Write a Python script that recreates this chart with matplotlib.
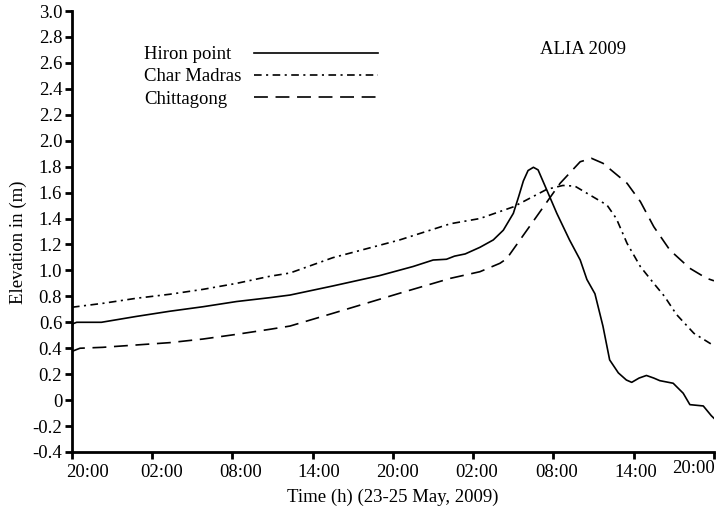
import matplotlib
matplotlib.use("Agg")
import matplotlib.pyplot as plt
import matplotlib.transforms as mtransforms
from matplotlib.lines import Line2D

plt.rcParams['font.family'] = ['Liberation Serif', 'DejaVu Serif']
plt.rcParams['lines.scale_dashes'] = False

# Time in hours since 20:00, 23 May 2009
hiron_t = [0, 0.1, 0.35, 2.2, 4.8, 7.3, 9.8, 12.3, 14.8, 16.3, 19.5, 23.0, 25.5,
           27.0, 28.0, 28.6, 29.4, 30.5, 31.5, 32.25, 33.0, 33.4, 33.75, 34.1, 34.5,
           34.85, 35.5, 36.25, 37.2, 38.0, 38.5, 39.1, 39.7, 40.2, 40.85, 41.45,
           41.85, 42.4, 42.95, 43.5, 43.95, 44.95, 45.7, 46.2, 47.2, 47.8, 48.0]
hiron_v = [0.57, 0.59, 0.60, 0.60, 0.645, 0.685, 0.72, 0.76, 0.79, 0.81, 0.88, 0.96, 1.03,
           1.08, 1.086, 1.11, 1.127, 1.178, 1.235, 1.31, 1.44, 1.57, 1.69, 1.77, 1.795,
           1.775, 1.62, 1.44, 1.235, 1.08, 0.93, 0.82, 0.57, 0.31, 0.21, 0.155,
           0.137, 0.17, 0.19, 0.17, 0.15, 0.13, 0.053, -0.035, -0.045, -0.12, -0.14]

madras_t = [0, 2.3, 4.8, 7.3, 9.8, 12.3, 14.8, 16.3, 19.5, 24.5, 28.3, 30.5, 31.75,
            33.0, 35.5, 36.7, 37.6, 38.5, 40.0, 40.7, 41.5, 42.5, 43.5, 44.3, 45.2,
            46.5, 47.7, 48.0]
madras_v = [0.716, 0.746, 0.785, 0.816, 0.854, 0.90, 0.955, 0.98, 1.098, 1.235, 1.36, 1.40, 1.445,
            1.49, 1.625, 1.655, 1.65, 1.595, 1.504, 1.40, 1.209, 1.029, 0.90, 0.80, 0.66,
            0.515, 0.438, 0.42]

chitt_t = [0, 0.1, 0.6, 2.3, 4.8, 7.3, 9.8, 12.3, 14.8, 16.3, 19.5, 24.5, 28.3, 30.5,
           32.0, 32.5, 34.2, 36.5, 38.0, 38.85, 39.7, 41.5, 42.5, 43.5, 44.7, 46.2,
           47.45, 48.0]
chitt_v = [0.37, 0.38, 0.40, 0.407, 0.425, 0.443, 0.471, 0.507, 0.546, 0.571, 0.669, 0.824, 0.939, 0.99,
           1.055, 1.09, 1.337, 1.672, 1.838, 1.864, 1.826, 1.672, 1.53, 1.337, 1.157, 1.016,
           0.939, 0.92]

series_names = ["Hiron point", "Char Madras", "Chittagong"]
xtick_labels = ["20:00", "02:00", "08:00", "14:00", "20:00", "02:00", "08:00", "14:00", "20:00"]
ytick_values = [-0.4, -0.2, 0, 0.2, 0.4, 0.6, 0.8, 1.0, 1.2, 1.4, 1.6, 1.8, 2.0,
                2.2, 2.4, 2.6, 2.8, 3.0]

FS = 13.5
fig = plt.figure(figsize=(7.19, 5.12), dpi=100)
ax = fig.add_axes([0.1001, 0.1172, 0.8929, 0.8613])

lw = 1.2
styles = [dict(linestyle='-'),
          dict(dashes=(5.5, 3.2, 1.5, 3.2)),
          dict(dashes=(10, 5.5))]
series = [(hiron_t, hiron_v), (madras_t, madras_v), (chitt_t, chitt_v)]
for (t, v), st, name in zip(series, styles, series_names):
    ax.plot(t, v, color='black', lw=lw, label=name, **st)

ax.set_xlim(0, 48)
ax.set_ylim(-0.4, 3.0)
ax.set_xticks([6 * i for i in range(len(xtick_labels))])
ax.set_xticklabels(xtick_labels)
ax.set_yticks(ytick_values)
ax.set_yticklabels(["0" if abs(v) < 1e-9 else f"{v:.1f}" for v in ytick_values])

for s in ['top', 'right']:
    ax.spines[s].set_visible(False)
for s in ['left', 'bottom']:
    ax.spines[s].set_linewidth(2.0)
ax.tick_params(axis='both', direction='out', length=5, width=2.0, labelsize=FS)
ax.tick_params(axis='x', pad=4)
ax.tick_params(axis='y', pad=2)

# x tick labels sit a little right of their ticks; the last one is pulled in and raised
dx_px = [16, 9, 8, 6, 5, 3, 3, 2, -20]
dy_px = [0, 0, 0, 0, 0, 0, 0, 0, 4]
for lab, dx, dy in zip(ax.get_xticklabels(), dx_px, dy_px):
    lab.set_transform(lab.get_transform() +
                      mtransforms.ScaledTranslation(dx / 100, dy / 100, fig.dpi_scale_trans))

ax.set_xlabel("Time (h) (23-25 May, 2009)", fontsize=FS, labelpad=5)
ax.set_ylabel("Elevation in (m)", fontsize=FS)
ax.yaxis.set_label_coords(-0.07, 0.476)

ax.text(0.729, 0.918, "ALIA 2009", transform=ax.transAxes, fontsize=FS,
        ha='left', va='center_baseline')

# legend: text on the left, line sample on the right
leg_y = [0.9048, 0.8549, 0.805]
for name, st, y in zip(series_names, styles, leg_y):
    ax.text(0.112, y, name, transform=ax.transAxes, fontsize=FS, ha='left', va='center_baseline')
    ax.add_line(Line2D([0.283, 0.4766], [y, y], transform=ax.transAxes, color='black',
                       lw=lw, clip_on=False, **st))

fig.savefig("out.png", dpi=100)
